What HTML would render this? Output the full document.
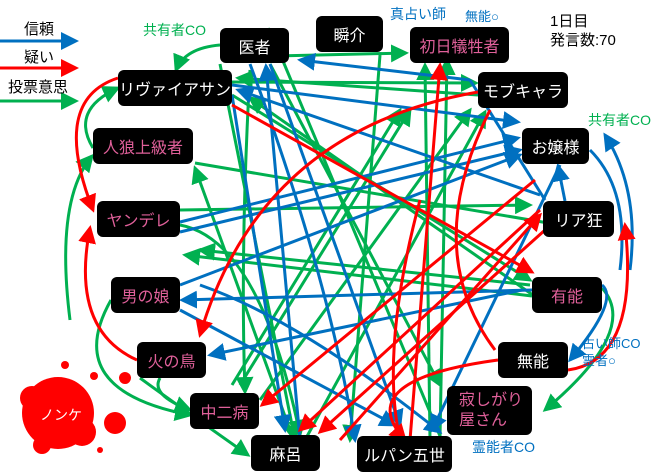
<!DOCTYPE html>
<html><head><meta charset="utf-8"><style>
html,body{margin:0;padding:0;background:#fff;}
body{width:660px;height:474px;position:relative;overflow:hidden;font-family:"Liberation Sans","Noto Sans CJK JP",sans-serif;}
.n{position:absolute;background:#000;border-radius:6px;color:#fff;font-size:16px;display:flex;align-items:center;justify-content:center;box-sizing:border-box;}
.p{color:#e0609a;}
.t{position:absolute;font-size:13px;white-space:nowrap;}
svg{position:absolute;left:0;top:0;}
</style></head><body>
<svg width="660" height="474" viewBox="0 0 660 474">
<defs>
<marker id="b" markerWidth="6" markerHeight="6" refX="5" refY="3" orient="auto" markerUnits="strokeWidth"><path d="M0,0 L6,3 L0,6z" fill="#0070c0"/></marker>
<marker id="r" markerWidth="6" markerHeight="6" refX="5" refY="3" orient="auto" markerUnits="strokeWidth"><path d="M0,0 L6,3 L0,6z" fill="#ff0000"/></marker>
<marker id="g" markerWidth="6" markerHeight="6" refX="5" refY="3" orient="auto" markerUnits="strokeWidth"><path d="M0,0 L6,3 L0,6z" fill="#00b050"/></marker>
</defs>
<g fill="none" stroke-width="3">
<!-- legend -->
<line x1="0" y1="41" x2="76" y2="41" stroke="#0070c0" stroke-width="3" marker-end="url(#b)"/>
<line x1="0" y1="68" x2="76" y2="68" stroke="#ff0000" stroke-width="3" marker-end="url(#r)"/>
<line x1="0" y1="101" x2="76" y2="101" stroke="#00b050" stroke-width="3" marker-end="url(#g)"/>
<!-- green -->
<g stroke="#00b050" marker-end="url(#g)">
<path d="M220,45 Q185,48 176,70"/>
<path d="M93,148 Q70,110 118,88"/>
<path d="M70,320 Q55,200 92,156"/>
<path d="M290,430 L195,168"/>
<path d="M232,57 L406,53"/>
<path d="M232,82 L476,83"/>
<path d="M478,95 L238,78"/>
<path d="M540,300 L250,98"/>
<path d="M440,436 L270,30"/>
<path d="M530,285 L200,250"/>
<path d="M532,296 L185,255"/>
<path d="M180,210 L530,205"/>
<path d="M232,95 L530,280"/>
<path d="M140,378 Q170,400 248,455"/>
<path d="M160,378 Q150,395 190,410"/>
<path d="M111,300 Q60,390 190,415"/>
<path d="M602,288 Q640,330 545,410"/>
<path d="M430,440 L425,65"/>
<path d="M440,438 L447,60"/>
<path d="M180,225 Q260,240 300,435"/>
<path d="M240,385 L410,110"/>
<path d="M232,385 L400,110"/>
<path d="M260,400 L470,110"/>
<path d="M305,440 L485,112"/>
<path d="M220,64 L295,440"/>
<path d="M270,64 L440,385"/>
<path d="M380,55 L350,440"/>
<path d="M250,70 Q240,250 245,392"/>
<path d="M195,163 L560,225" marker-end="none"/>
</g>
<!-- blue -->
<g stroke="#0070c0" marker-end="url(#b)">
<path d="M300,440 L266,66"/>
<path d="M232,85 L518,122"/>
<path d="M180,222 L518,138"/>
<path d="M180,232 L520,150"/>
<path d="M180,285 L520,155"/>
<path d="M565,201 L558,166"/>
<path d="M590,150 Q630,190 620,270" marker-end="none"/>
<path d="M630,270 Q640,190 605,135"/>
<path d="M602,285 Q620,300 570,360"/>
<path d="M532,290 L182,300"/>
<path d="M522,290 L210,355"/>
<path d="M180,310 L395,425"/>
<path d="M200,285 Q300,320 440,432"/>
<path d="M270,64 L400,425"/>
<path d="M545,200 L470,80" marker-end="none"/>
<path d="M470,80 L300,60"/>
<path d="M560,165 L432,430"/>
<path d="M540,195 L238,90"/>
<path d="M232,95 L285,430"/>
<path d="M250,64 Q330,280 355,440"/>
</g>
<!-- red -->
<g stroke="#ff0000" marker-end="url(#r)">
<path d="M118,78 Q50,100 93,210"/>
<path d="M137,360 Q70,330 90,228"/>
<path d="M232,105 L532,272"/>
<path d="M410,440 L440,65"/>
<path d="M478,92 Q260,130 200,335"/>
<path d="M535,180 L262,405"/>
<path d="M540,210 L300,430"/>
<path d="M545,230 L320,432"/>
<path d="M498,360 Q350,380 405,440"/>
<path d="M568,370 Q640,360 625,225"/>
<path d="M340,440 L540,215"/>
<path d="M490,110 Q420,250 495,350" marker-end="none"/>
<path d="M400,440 Q380,350 420,200" marker-end="none"/>
</g>
</g>
<!-- nonke blob -->
<g fill="#ff0000">
<circle cx="58" cy="413" r="36"/><circle cx="32" cy="398" r="12"/><circle cx="82" cy="432" r="14"/>
<circle cx="115" cy="423" r="11"/><circle cx="125" cy="378" r="6"/><circle cx="65" cy="365" r="4"/><circle cx="94" cy="376" r="4"/><circle cx="100" cy="450" r="3"/><circle cx="42" cy="445" r="9"/>
</g>
</svg>
<div class="t" style="left:24px;top:18px;font-size:15px">信頼</div>
<div class="t" style="left:24px;top:46px;font-size:15px">疑い</div>
<div class="t" style="left:8px;top:76px;font-size:15px">投票意思</div>
<div class="t" style="left:143px;top:20px;color:#00b050;font-size:14px">共有者CO</div>
<div class="t" style="left:390px;top:4px;color:#0070c0;font-size:14px">真占い師</div>
<div class="t" style="left:465px;top:6px;color:#0070c0;font-size:13px">無能○</div>
<div class="t" style="left:550px;top:10px;font-size:15px">1日目</div>
<div class="t" style="left:550px;top:29px;font-size:15px">発言数:70</div>
<div class="t" style="left:588px;top:110px;color:#00b050;font-size:14px">共有者CO</div>
<div class="t" style="left:582px;top:333px;color:#0070c0">占い師CO</div>
<div class="t" style="left:582px;top:350px;color:#0070c0">霊者○</div>
<div class="t" style="left:472px;top:437px;color:#0070c0;font-size:14px">霊能者CO</div>
<div class="t" style="left:40px;top:405px;color:#fff;font-size:14px">ノンケ</div>
<div class="n" style="left:220px;top:28px;width:69px;height:35px">医者</div>
<div class="n" style="left:316px;top:16px;width:67px;height:36px">瞬介</div>
<div class="n p" style="left:410px;top:27px;width:99px;height:36px">初日犠牲者</div>
<div class="n" style="left:118px;top:70px;width:114px;height:36px">リヴァイアサン</div>
<div class="n" style="left:478px;top:72px;width:90px;height:36px">モブキャラ</div>
<div class="n p" style="left:93px;top:128px;width:100px;height:36px">人狼上級者</div>
<div class="n" style="left:522px;top:128px;width:67px;height:36px">お嬢様</div>
<div class="n p" style="left:97px;top:201px;width:83px;height:36px">ヤンデレ</div>
<div class="n" style="left:543px;top:201px;width:71px;height:36px">リア狂</div>
<div class="n p" style="left:111px;top:277px;width:69px;height:36px">男の娘</div>
<div class="n p" style="left:532px;top:277px;width:70px;height:36px">有能</div>
<div class="n p" style="left:137px;top:342px;width:69px;height:36px">火の鳥</div>
<div class="n" style="left:498px;top:342px;width:70px;height:36px">無能</div>
<div class="n p" style="left:190px;top:393px;width:69px;height:36px">中二病</div>
<div class="n p" style="left:447px;top:386px;width:85px;height:49px;line-height:20px;text-align:left;justify-content:flex-start;padding-left:12px">寂しがり<br>屋さん</div>
<div class="n" style="left:251px;top:435px;width:69px;height:36px">麻呂</div>
<div class="n" style="left:357px;top:436px;width:95px;height:36px">ルパン五世</div>
</body></html>
